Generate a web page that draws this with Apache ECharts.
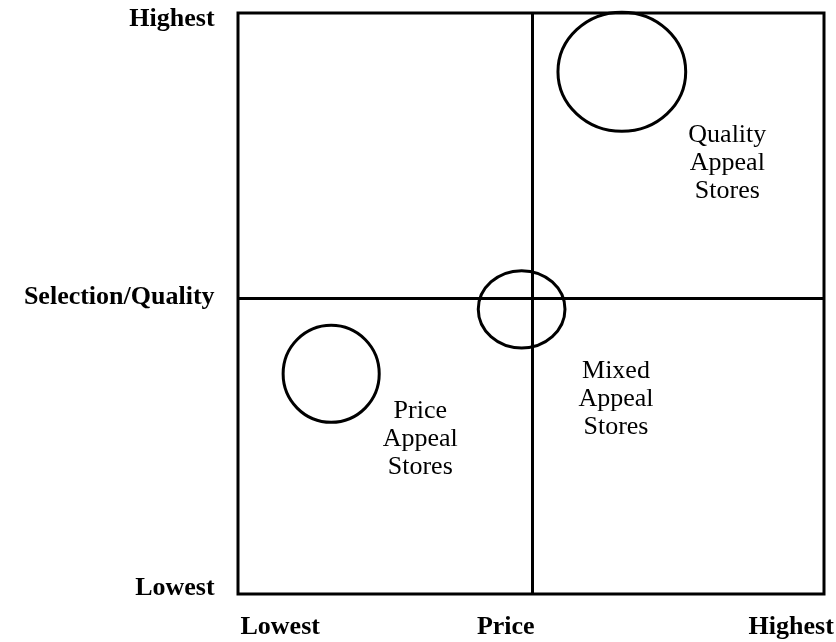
<!DOCTYPE html>
<html><head><meta charset="utf-8">
<script src="https://cdn.jsdelivr.net/npm/echarts@6/dist/echarts.min.js"></script>
<style>html,body{margin:0;padding:0;background:#fff}#c{width:836px;height:642px}</style>
</head><body><div id="c"></div>
<script>
// Store groups: price position (x), selection/quality position (y), extents in axis units
const bubbleNames = ['Quality Appeal', 'Mixed Appeal', 'Price Appeal'];
const bubblePrice = [65.5, 48.4, 15.9];
const bubbleQuality = [89.9, 49.0, 37.9];
const bubbleSpanX = [21.8, 14.8, 16.4];
const bubbleSpanY = [20.5, 13.3, 16.7];

// Quadrant dividers
const priceDivider = 50.2;
const qualityDivider = 50.9;

// Quadrant labels
const quadrantLabels = ['Quality\nAppeal\nStores', 'Mixed\nAppeal\nStores', 'Price\nAppeal\nStores'];
const quadrantLabelX = [83.5, 64.5, 31.1];
const quadrantLabelY = [74.2, 33.6, 26.6];

// Axis labels
const xTickLabels = ['Lowest', 'Price', 'Highest'];
const xTickPos = [7.2, 45.7, 94.4];
const xTickLevel = -5.7;
const yTickLabels = ['Highest', 'Selection/Quality', 'Lowest'];
const yTickPos = [99.0, 51.1, 1.0];
const yTickLevel = -4.0;

const FONT = '"Liberation Serif","Times New Roman",serif';

const bubbleData = bubbleNames.map((n, i) => ({
  name: n, value: [bubblePrice[i], bubbleQuality[i], bubbleSpanX[i], bubbleSpanY[i]]
}));

const baseLabel = {show: true, position: 'inside', formatter: p => p.value[2],
  fontFamily: FONT, fontSize: 26, color: '#000', opacity: 1, textBorderWidth: 0,
  textBorderColor: 'transparent', verticalAlign: 'middle'};

const chart = echarts.init(document.getElementById('c'), null, {renderer: 'canvas'});
chart.setOption({
  animation: false,
  backgroundColor: '#fff',
  grid: {left: 238, top: 13, width: 586, height: 581, show: true,
         borderColor: '#000', borderWidth: 3, backgroundColor: 'transparent'},
  xAxis: {type: 'value', min: 0, max: 100, axisLine: {show: false}, axisTick: {show: false},
          axisLabel: {show: false}, splitLine: {show: false}},
  yAxis: {type: 'value', min: 0, max: 100, axisLine: {show: false}, axisTick: {show: false},
          axisLabel: {show: false}, splitLine: {show: false}},
  series: [
    {
      type: 'custom',
      name: 'stores',
      clip: false,
      silent: true,
      data: bubbleData,
      renderItem: function (params, api) {
        const c = api.coord([api.value(0), api.value(1)]);
        const s = api.size([api.value(2), api.value(3)]);
        return {
          type: 'ellipse',
          shape: {cx: c[0], cy: c[1], rx: s[0] / 2, ry: s[1] / 2},
          style: {fill: 'none', stroke: '#000', lineWidth: 3}
        };
      }
    },
    {
      type: 'scatter',
      name: 'quadrants',
      clip: false,
      silent: true,
      symbolSize: 0,
      itemStyle: {color: '#000', opacity: 1},
      data: quadrantLabels.map((t, i) => [quadrantLabelX[i], quadrantLabelY[i], t]),
      label: Object.assign({}, baseLabel, {lineHeight: 28, align: 'center'}),
      markLine: {
        silent: true, symbol: 'none', animation: false,
        label: {show: false},
        lineStyle: {color: '#000', width: 3, type: 'solid', opacity: 1},
        data: [{xAxis: priceDivider}, {yAxis: qualityDivider}]
      }
    },
    {
      type: 'scatter',
      name: 'xlabels',
      clip: false,
      silent: true,
      symbolSize: 0,
      itemStyle: {color: '#000', opacity: 1},
      data: xTickLabels.map((t, i) => [xTickPos[i], xTickLevel, t]),
      label: Object.assign({}, baseLabel, {fontWeight: 'bold', align: 'center'})
    },
    {
      type: 'scatter',
      name: 'ylabels',
      clip: false,
      silent: true,
      symbolSize: 0,
      itemStyle: {color: '#000', opacity: 1},
      data: yTickLabels.map((t, i) => [yTickLevel, yTickPos[i], t]),
      label: Object.assign({}, baseLabel, {fontWeight: 'bold', align: 'right'})
    }
  ]
});
</script>
</body></html>
